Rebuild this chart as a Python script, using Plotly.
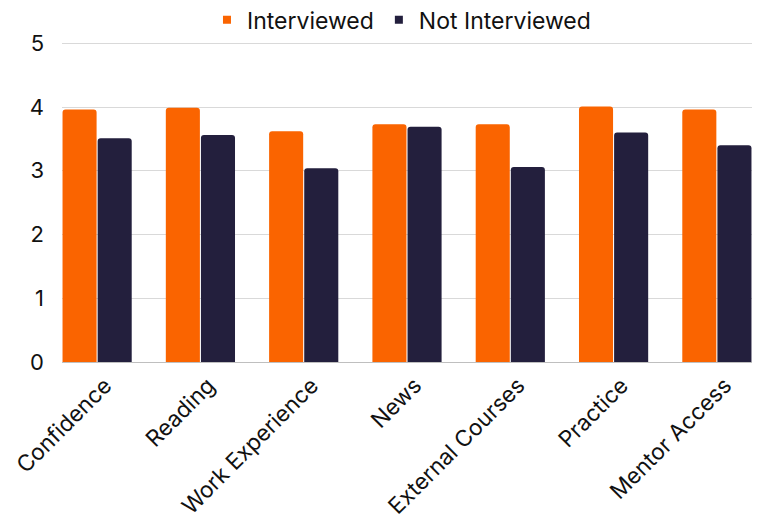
import plotly.graph_objects as go

categories = ["Confidence", "Reading", "Work Experience", "News",
              "External Courses", "Practice", "Mentor Access"]
interviewed = [3.96, 3.99, 3.62, 3.73, 3.73, 4.01, 3.96]
not_interviewed = [3.51, 3.56, 3.04, 3.69, 3.06, 3.60, 3.40]
series_names = ["Interviewed", "Not Interviewed"]
y_ticks = [0, 1, 2, 3, 4, 5]

ORANGE = "#FA6400"
NAVY = "#231F3D"
FONT = "Inter, Liberation Sans, Arial, sans-serif"

fig = go.Figure()
for name, values, color in zip(series_names, [interviewed, not_interviewed], [ORANGE, NAVY]):
    fig.add_trace(go.Bar(x=categories, y=values, name=name, showlegend=False,
                         marker=dict(color=color, line=dict(width=0))))
    # small square legend keys
    fig.add_trace(go.Scatter(x=[None], y=[None], mode="markers", name=name,
                             marker=dict(symbol="square", size=8, color=color)))

gap = 0.32
fig.update_layout(
    width=760, height=522,
    margin=dict(l=62, r=8, t=42, b=160, autoexpand=False),
    plot_bgcolor="white", paper_bgcolor="white",
    barmode="group", bargap=gap, bargroupgap=0.03, barcornerradius=3,
    font=dict(family=FONT, size=23, color="#111111"),
    legend=dict(orientation="h", x=0.492, xanchor="center", y=1.069, yanchor="middle",
                font=dict(size=23), itemwidth=30, tracegroupgap=0),
)
fig.update_xaxes(range=[-0.5 + gap / 2, len(categories) - 0.5 - gap / 2],
                 tickangle=-45, showgrid=False, showline=False, ticks="",
                 automargin=False, tickfont=dict(size=22.5),
                 ticklabelstandoff=5, ticklabelshift=8)
fig.update_yaxes(range=[0, 5.02], tickvals=y_ticks, showgrid=True, gridcolor="#D9D9D9",
                 gridwidth=1, zeroline=True, zerolinecolor="#BFBFBF", zerolinewidth=1,
                 ticks="", automargin=False, ticklabelstandoff=17, tickfont=dict(size=22))

fig.write_html("out.html")
